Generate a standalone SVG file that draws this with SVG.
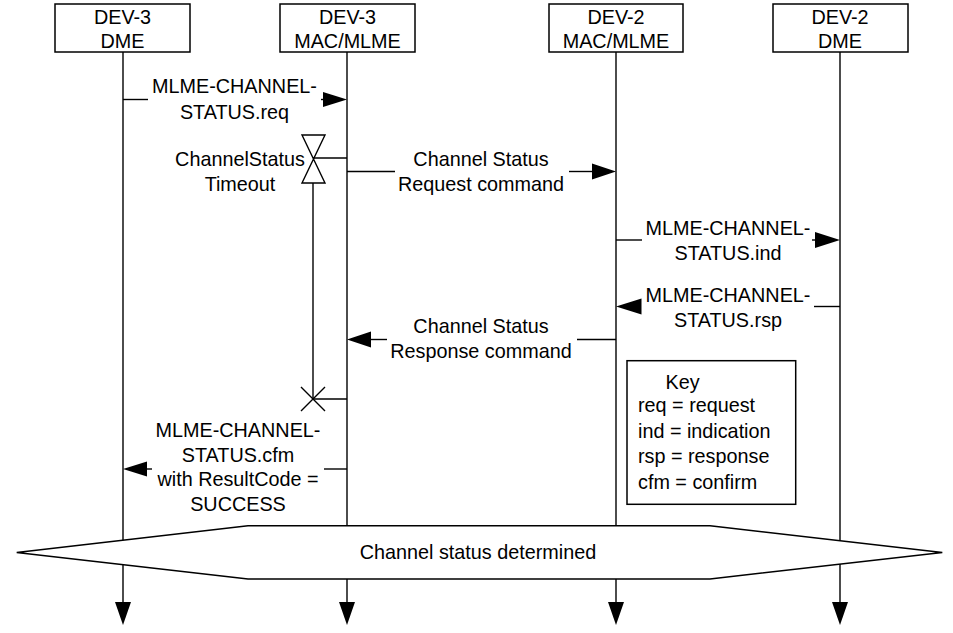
<svg xmlns="http://www.w3.org/2000/svg" width="953" height="633" viewBox="0 0 953 633">
<defs>
<style>
text{font-family:"Liberation Sans",Arial,sans-serif;font-size:19.8px;fill:#000}
.c{text-anchor:middle}
.b{fill:#fff;stroke:#000;stroke-width:1.5}
.l{stroke:#000;stroke-width:1.4;fill:none}
.h{fill:#000;stroke:none}
</style>
</defs>
<rect width="953" height="633" fill="#fff"/>
<g id="dev3-dme">
<line class="l" x1="123" y1="52" x2="123" y2="604"/>
<polygon class="h" points="115,602 131,602 123,625"/>
<rect class="b" x="55" y="4" width="135" height="48"/>
<text class="c" x="122.5" y="23.5">DEV-3</text>
<text class="c" x="122.5" y="48">DME</text>
</g>
<g id="dev3-mac">
<line class="l" x1="347" y1="52" x2="347" y2="604"/>
<polygon class="h" points="339,602 355,602 347,625"/>
<rect class="b" x="280" y="4" width="135" height="48"/>
<text class="c" x="347.5" y="23.5">DEV-3</text>
<text class="c" x="347.5" y="48">MAC/MLME</text>
</g>
<g id="dev2-mac">
<line class="l" x1="616" y1="52" x2="616" y2="604"/>
<polygon class="h" points="608,602 624,602 616,625"/>
<rect class="b" x="549" y="4" width="134" height="48"/>
<text class="c" x="616" y="23.5">DEV-2</text>
<text class="c" x="616" y="48">MAC/MLME</text>
</g>
<g id="dev2-dme">
<line class="l" x1="840" y1="52" x2="840" y2="604"/>
<polygon class="h" points="832,602 848,602 840,625"/>
<rect class="b" x="773" y="4" width="135" height="48"/>
<text class="c" x="840" y="23.5">DEV-2</text>
<text class="c" x="840" y="48">DME</text>
</g>
<g id="connectors">
<!-- req -->
<line class="l" x1="123" y1="99.5" x2="148" y2="99.5"/>
<line class="l" x1="321" y1="99.5" x2="330" y2="99.5"/>
<polygon class="h" points="323,92 347,99.5 323,107"/>
<text class="c" x="234.5" y="93.3">MLME-CHANNEL-</text>
<text class="c" x="234.5" y="119">STATUS.req</text>
<!-- timer -->
<path class="l" d="M302,135 H325 L302,183 H325 Z"/>
<line class="l" x1="313" y1="158" x2="347" y2="158"/>
<line class="l" x1="313" y1="183" x2="313" y2="399"/>
<path class="l" d="M301,387 L325,411 M325,387 L301,411"/>
<line class="l" x1="313" y1="399" x2="347" y2="399"/>
<text class="c" x="240" y="165.5">ChannelStatus</text>
<text class="c" x="240" y="191">Timeout</text>
<!-- channel status request -->
<line class="l" x1="347" y1="171.5" x2="395" y2="171.5"/>
<line class="l" x1="569" y1="171.5" x2="595" y2="171.5"/>
<polygon class="h" points="592,163.5 616,171.5 592,179.5"/>
<text class="c" x="481" y="165.5">Channel Status</text>
<text class="c" x="481" y="191">Request command</text>
<!-- ind -->
<line class="l" x1="616" y1="240" x2="642" y2="240"/>
<line class="l" x1="812" y1="240" x2="818" y2="240"/>
<polygon class="h" points="815,232 840,240 815,248"/>
<text class="c" x="728" y="235">MLME-CHANNEL-</text>
<text class="c" x="728" y="260">STATUS.ind</text>
<!-- rsp -->
<line class="l" x1="814" y1="306.5" x2="840" y2="306.5"/>
<polygon class="h" points="641.5,298.5 616,306.5 641.5,314.5"/>
<text class="c" x="728" y="301.5">MLME-CHANNEL-</text>
<text class="c" x="728" y="326.5">STATUS.rsp</text>
<!-- channel status response -->
<line class="l" x1="577" y1="339.5" x2="616" y2="339.5"/>
<line class="l" x1="368" y1="339.5" x2="387" y2="339.5"/>
<polygon class="h" points="371,331.5 347,339.5 371,347.5"/>
<text class="c" x="481" y="333">Channel Status</text>
<text class="c" x="481" y="357.5">Response command</text>
<!-- cfm -->
<line class="l" x1="324" y1="469" x2="347" y2="469"/>
<line class="l" x1="144" y1="469" x2="152" y2="469"/>
<polygon class="h" points="147,461.5 123,469 147,476.5"/>
<text class="c" x="238" y="436.7">MLME-CHANNEL-</text>
<text class="c" x="238" y="461.5">STATUS.cfm</text>
<text class="c" x="238" y="486">with ResultCode =</text>
<text class="c" x="238" y="511">SUCCESS</text>
</g>
<g id="key">
<rect class="b" x="627" y="360.7" width="168.7" height="143.6"/>
<text class="c" x="682.5" y="389">Key</text>
<text x="638" y="412">req = request</text>
<text x="638" y="437.5">ind = indication</text>
<text x="638" y="463">rsp = response</text>
<text x="638" y="488.5">cfm = confirm</text>
</g>
<g id="status-determined">
<polygon class="b" points="16.7,552.5 248,525.7 710,525.7 942.3,552.5 710,579 248,579"/>
<text class="c" x="478" y="558.5">Channel status determined</text>
</g>
</svg>
